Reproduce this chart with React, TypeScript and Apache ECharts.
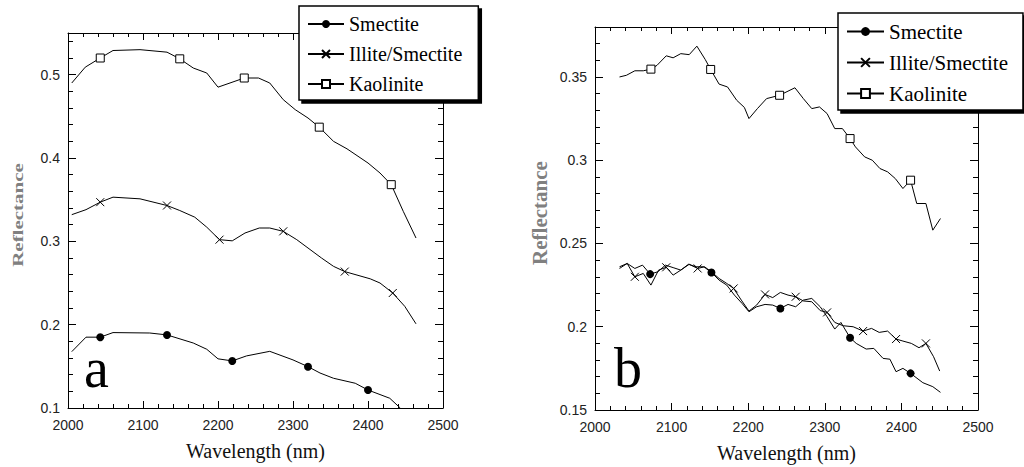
import React, { useEffect, useRef } from "react";
import * as echarts from "echarts";

// ---------- data ----------
const NAMES = ["Smectite", "Illite/Smectite", "Kaolinite"];
const X_TICKS = { min: 2000, max: 2500, interval: 100 };

// Panel a
const A_SMECTITE: number[][] = [
  [2005, 0.1676], [2024, 0.185], [2043, 0.185], [2060, 0.1905], [2109, 0.19], [2132, 0.1877],
  [2167, 0.178], [2185, 0.1705], [2200, 0.159], [2219, 0.1565], [2238, 0.1625], [2269, 0.168],
  [2300, 0.1577], [2320, 0.1496], [2336, 0.142], [2354, 0.1357], [2383, 0.1297], [2400, 0.1216],
  [2429, 0.1117], [2443, 0.1],
];
const A_SMECTITE_MARKS = [2, 5, 9, 13, 17];

const A_ILLITE: number[][] = [
  [2005, 0.332], [2024, 0.338], [2043, 0.347], [2060, 0.353], [2096, 0.351], [2132, 0.343],
  [2149, 0.337], [2169, 0.329], [2185, 0.317], [2202, 0.302], [2219, 0.3006], [2236, 0.31],
  [2255, 0.316], [2269, 0.316], [2287, 0.312], [2305, 0.302], [2320, 0.292], [2338, 0.28],
  [2354, 0.27], [2369, 0.2637], [2403, 0.255], [2416, 0.25], [2433, 0.238], [2449, 0.222],
  [2464, 0.201],
];
const A_ILLITE_MARKS = [2, 5, 9, 14, 19, 22];

const A_KAOLINITE: number[][] = [
  [2005, 0.49], [2023, 0.509], [2043, 0.52], [2060, 0.529], [2096, 0.53], [2132, 0.527],
  [2149, 0.519], [2167, 0.508], [2185, 0.502], [2200, 0.485], [2235, 0.496], [2254, 0.496],
  [2269, 0.49], [2287, 0.47], [2303, 0.458], [2320, 0.448], [2335, 0.437], [2354, 0.42],
  [2372, 0.411], [2400, 0.394], [2416, 0.382], [2431, 0.368], [2447, 0.336], [2464, 0.304],
];
const A_KAOLINITE_MARKS = [2, 6, 10, 16, 21];

// Panel b
const B_SMECTITE: number[][] = [
  [2032, 0.235], [2042, 0.238], [2052, 0.235], [2062, 0.237], [2072, 0.2316], [2082, 0.233],
  [2092, 0.237], [2102, 0.2355], [2112, 0.234], [2122, 0.2375], [2132, 0.236], [2142, 0.236],
  [2152, 0.2326], [2162, 0.228], [2172, 0.225], [2182, 0.219], [2192, 0.214], [2201, 0.209],
  [2211, 0.212], [2222, 0.2134], [2232, 0.213], [2242, 0.211], [2252, 0.2134], [2262, 0.212],
  [2272, 0.216], [2283, 0.217], [2294, 0.212], [2303, 0.206], [2313, 0.1986], [2321, 0.2026],
  [2333, 0.1934], [2341, 0.19], [2354, 0.1866], [2364, 0.187], [2376, 0.181], [2385, 0.1805],
  [2393, 0.173], [2402, 0.175], [2412, 0.172], [2428, 0.1664], [2441, 0.164], [2451, 0.1606],
];
const B_SMECTITE_MARKS = [4, 12, 21, 30, 38];

const B_ILLITE: number[][] = [
  [2032, 0.236], [2042, 0.238], [2052, 0.23], [2063, 0.232], [2073, 0.225], [2083, 0.234],
  [2093, 0.2357], [2102, 0.231], [2112, 0.234], [2123, 0.2375], [2134, 0.235], [2143, 0.236],
  [2152, 0.233], [2162, 0.229], [2172, 0.226], [2181, 0.223], [2191, 0.216], [2201, 0.2094],
  [2211, 0.213], [2222, 0.2194], [2232, 0.2175], [2242, 0.2206], [2252, 0.219], [2262, 0.218],
  [2272, 0.2155], [2283, 0.215], [2294, 0.2097], [2303, 0.2086], [2313, 0.2026], [2324, 0.2006],
  [2337, 0.2], [2350, 0.1974], [2361, 0.199], [2371, 0.1966], [2382, 0.1974], [2393, 0.1926],
  [2402, 0.1914], [2413, 0.19], [2423, 0.1874], [2432, 0.19], [2442, 0.182], [2450, 0.1734],
];
const B_ILLITE_MARKS = [2, 6, 10, 15, 19, 23, 27, 31, 35, 39];

const B_KAOLINITE: number[][] = [
  [2032, 0.35], [2041, 0.351], [2052, 0.3537], [2063, 0.3537], [2073, 0.3547], [2081, 0.357],
  [2093, 0.3627], [2102, 0.3615], [2112, 0.364], [2123, 0.3634], [2133, 0.3685], [2144, 0.3604],
  [2151, 0.3545], [2162, 0.3457], [2173, 0.344], [2185, 0.336], [2195, 0.3317], [2201, 0.325],
  [2212, 0.331], [2224, 0.337], [2241, 0.339], [2261, 0.3435], [2272, 0.337], [2283, 0.331],
  [2293, 0.332], [2303, 0.328], [2313, 0.319], [2323, 0.319], [2333, 0.313], [2340, 0.308],
  [2352, 0.302], [2362, 0.3], [2372, 0.295], [2382, 0.293], [2392, 0.289], [2402, 0.283],
  [2412, 0.288], [2420, 0.274], [2432, 0.274], [2441, 0.258], [2451, 0.265],
];
const B_KAOLINITE_MARKS = [4, 12, 20, 28, 36];

const A_Y = { min: 0.1, max: 0.55, interval: 0.1 };
const B_Y = { min: 0.15, max: 0.38, interval: 0.05 };

// ---------- styles ----------
const SANS = "'Liberation Sans', Arial, sans-serif";
const SERIF = "'Liberation Serif', 'Times New Roman', serif";

const SYMBOLS: Record<string, any> = {
  Smectite: { symbol: "circle", symbolSize: 8, itemStyle: { color: "#000", borderWidth: 0 } },
  "Illite/Smectite": {
    symbol: "path://M0,0L10,10M10,0L0,10",
    symbolSize: 8,
    itemStyle: { color: "#000", borderColor: "#000", borderWidth: 1 },
  },
  Kaolinite: { symbol: "rect", symbolSize: 8, itemStyle: { color: "#fff", borderColor: "#000", borderWidth: 1 } },
};

function buildData(pts: number[][], marks: number[]) {
  return pts.map((p, i) => (marks.includes(i) ? { value: p } : { value: p, symbol: "none" }));
}

function makeSeries(name: string, pts: number[][], marks: number[], axisIndex: number) {
  const s = SYMBOLS[name];
  return {
    type: "line",
    name,
    xAxisIndex: axisIndex,
    yAxisIndex: axisIndex,
    data: buildData(pts, marks),
    showSymbol: true,
    showAllSymbol: true,
    symbol: s.symbol,
    symbolSize: s.symbolSize,
    itemStyle: s.itemStyle,
    lineStyle: { color: "#000", width: 1 },
    emphasis: { disabled: true },
    z: 3,
  };
}

function xAxes(gridIndex: number) {
  const common = {
    type: "value",
    gridIndex,
    min: X_TICKS.min,
    max: X_TICKS.max,
    interval: X_TICKS.interval,
    axisLine: { show: true, onZero: false, lineStyle: { color: "#000", width: 1 } },
    axisTick: { show: true, inside: true, length: 7, lineStyle: { color: "#000", width: 1 } },
    minorTick: { show: true, splitNumber: 5, length: 4, lineStyle: { color: "#000", width: 1 } },
    splitLine: { show: false },
    minorSplitLine: { show: false },
  };
  return [
    {
      ...common,
      position: "bottom",
      axisLabel: {
        show: true,
        margin: 10,
        fontFamily: SANS,
        fontSize: 14,
        color: "#222",
        formatter: (v: number) => String(v),
      },
      name: "Wavelength (nm)",
      nameLocation: "middle",
      nameGap: 33,
      nameTextStyle: { fontFamily: SERIF, fontSize: 20, color: "#111" },
    },
    { ...common, position: "top", axisLabel: { show: false } },
  ];
}

function yAxes(gridIndex: number, y: { min: number; max: number; interval: number }) {
  const common = {
    type: "value",
    gridIndex,
    min: y.min,
    max: y.max,
    interval: y.interval,
    axisLine: { show: true, onZero: false, lineStyle: { color: "#000", width: 1 } },
    axisTick: { show: true, inside: true, length: 8, lineStyle: { color: "#000", width: 1 } },
    minorTick: { show: true, splitNumber: 5, length: 5, lineStyle: { color: "#000", width: 1 } },
    splitLine: { show: false },
    minorSplitLine: { show: false },
  };
  return [
    {
      ...common,
      position: "left",
      axisLabel: {
        show: true,
        margin: 8,
        fontFamily: SANS,
        fontSize: 14,
        color: "#222",
        showMaxLabel: false,
        formatter: (v: number) => String(Math.round(v * 1000) / 1000),
      },
    },
    { ...common, position: "right", axisLabel: { show: false } },
  ];
}

function legend(left: number, top: number, fontSize: number, itemWidth: number, itemHeight: number, padding: number[]) {
  return {
    show: true,
    orient: "vertical",
    left,
    top,
    data: NAMES,
    itemWidth,
    itemHeight,
    itemGap: 10,
    padding,
    backgroundColor: "#fff",
    borderColor: "#000",
    borderWidth: 1.5,
    borderRadius: 0,
    shadowColor: "#000",
    shadowBlur: 0,
    shadowOffsetX: 3,
    shadowOffsetY: 3,
    selectedMode: false,
    textStyle: { fontFamily: SERIF, fontSize, color: "#000" },
    z: 10,
  };
}

export default function App() {
  const ref = useRef<HTMLDivElement>(null);
  useEffect(() => {
    document.body.style.margin = "0";
    if (!ref.current) return;
    const chart = echarts.init(ref.current, undefined, { renderer: "svg" });
    const option: any = {
      animation: false,
      backgroundColor: "#fff",
      grid: [
        { left: 68, top: 33, right: 581, bottom: 59, containLabel: false, outerBoundsMode: "none" },
        { left: 595, top: 27, right: 46, bottom: 57, containLabel: false, outerBoundsMode: "none" },
      ],
      xAxis: [...xAxes(0), ...xAxes(1)],
      yAxis: [...yAxes(0, A_Y), ...yAxes(1, B_Y)],
      legend: [
        legend(299, 6, 20, 36, 10, [8, 16, 6, 8]),
        legend(838, 13, 21, 37, 11, [8, 15, 6, 8]),
      ],
      tooltip: { show: false },
      series: [
        makeSeries("Smectite", A_SMECTITE, A_SMECTITE_MARKS, 0),
        makeSeries("Illite/Smectite", A_ILLITE, A_ILLITE_MARKS, 0),
        makeSeries("Kaolinite", A_KAOLINITE, A_KAOLINITE_MARKS, 0),
        makeSeries("Smectite", B_SMECTITE, B_SMECTITE_MARKS, 2),
        makeSeries("Illite/Smectite", B_ILLITE, B_ILLITE_MARKS, 2),
        makeSeries("Kaolinite", B_KAOLINITE, B_KAOLINITE_MARKS, 2),
      ],
      graphic: [
        {
          type: "text",
          x: 18,
          y: 215,
          rotation: Math.PI / 2,
          scaleX: 1.4,
          style: {
            text: "Reflectance",
            font: `bold 15px ${SERIF}`,
            fill: "#808080",
            align: "center",
            verticalAlign: "middle",
          },
        },
        {
          type: "text",
          x: 540,
          y: 213,
          rotation: Math.PI / 2,
          scaleX: 1.05,
          style: {
            text: "Reflectance",
            font: `bold 20px ${SERIF}`,
            fill: "#808080",
            align: "center",
            verticalAlign: "middle",
          },
        },
        {
          type: "text",
          x: 84,
          y: 368,
          style: { text: "a", font: `56px ${SERIF}`, fill: "#000", align: "left", verticalAlign: "middle" },
        },
        {
          type: "text",
          x: 614,
          y: 368,
          style: { text: "b", font: `56px ${SERIF}`, fill: "#000", align: "left", verticalAlign: "middle" },
        },
      ],
    };
    chart.setOption(option);
    return () => chart.dispose();
  }, []);
  return <div ref={ref} style={{ width: 1024, height: 467, background: "#fff" }} />;
}
